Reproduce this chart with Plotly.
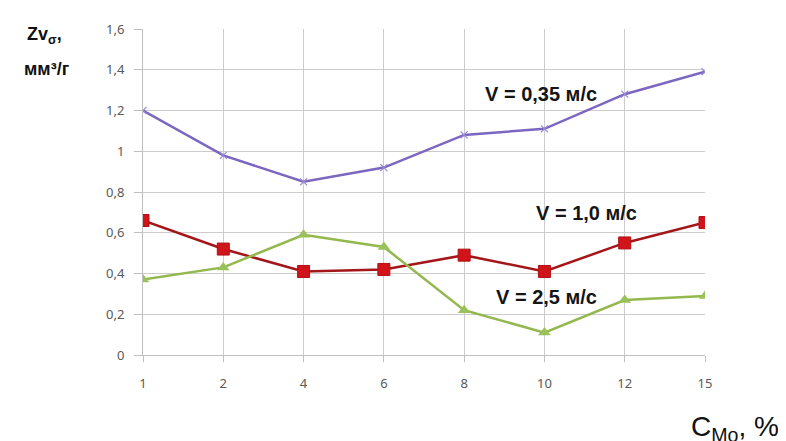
import plotly.graph_objects as go

categories = ["1", "2", "4", "6", "8", "10", "12", "15"]
v035 = [1.20, 0.98, 0.85, 0.92, 1.08, 1.11, 1.28, 1.39]
v10 = [0.66, 0.52, 0.41, 0.42, 0.49, 0.41, 0.55, 0.65]
v25 = [0.37, 0.43, 0.59, 0.53, 0.22, 0.11, 0.27, 0.29]
yticks = [0, 0.2, 0.4, 0.6, 0.8, 1.0, 1.2, 1.4, 1.6]
yticktext = ["0", "0,2", "0,4", "0,6", "0,8", "1", "1,2", "1,4", "1,6"]

fig = go.Figure()
fig.add_trace(go.Scatter(x=categories, y=v035, mode="lines+markers",
                         line=dict(color="#7b66c0", width=2.5),
                         marker=dict(symbol="x-thin", size=7, line=dict(color="#9a88d8", width=1.2))))
fig.add_trace(go.Scatter(x=categories, y=v10, mode="lines+markers",
                         line=dict(color="#a3161a", width=2.5),
                         marker=dict(symbol="square", size=12, color="#d0141a",
                                     line=dict(color="#b01015", width=1))))
fig.add_trace(go.Scatter(x=categories, y=v25, mode="lines+markers",
                         line=dict(color="#92b84e", width=2.5),
                         marker=dict(symbol="triangle-up", size=11, color="#9bc15a")))

ann_font = dict(family="Liberation Sans", size=20, color="#151515")
fig.add_annotation(x=4.96, y=1.28, text="<b>V = 0,35 м/с</b>", showarrow=False, font=ann_font)
fig.add_annotation(x=5.52, y=0.695, text="<b>V = 1,0 м/с</b>", showarrow=False, font=ann_font)
fig.add_annotation(x=5.03, y=0.286, text="<b>V = 2,5 м/с</b>", showarrow=False, font=ann_font)

fig.add_annotation(xref="paper", yref="paper", x=-0.176, y=0.979, xanchor="center", yanchor="middle",
                   text="<b>Zv<sub>σ</sub>,</b>", showarrow=False,
                   font=dict(family="Liberation Sans", size=18, color="#111111"))
fig.add_annotation(xref="paper", yref="paper", x=-0.171, y=0.878, xanchor="center", yanchor="middle",
                   text="<b>мм³/г</b>", showarrow=False,
                   font=dict(family="Liberation Sans", size=18, color="#111111"))
fig.add_annotation(xref="paper", yref="paper", x=1.135, y=-0.225, xanchor="right", yanchor="middle",
                   text="C<sub>Mo</sub>, %", showarrow=False,
                   font=dict(family="Liberation Sans", size=28, color="#111111"))

fig.update_layout(
    width=786, height=441,
    margin=dict(l=135, r=89, t=12, b=94),
    paper_bgcolor="white", plot_bgcolor="white",
    showlegend=False,
    font=dict(family="Noto Sans", size=12, color="#595959"),
)
fig.update_xaxes(type="category", categoryorder="array", categoryarray=categories,
                 range=[0, 7], showgrid=True, gridcolor="#cccccc", gridwidth=1,
                 showline=True, linecolor="#bfbfbf", ticks="outside", ticklen=6,
                 tickcolor="#bfbfbf", zeroline=False, ticklabelstandoff=10,
                 tickfont=dict(family="Noto Sans", size=13, color="#595959"))
fig.update_yaxes(range=[0, 1.6], tickvals=yticks, ticktext=yticktext,
                 showgrid=True, gridcolor="#cccccc", gridwidth=1,
                 showline=True, linecolor="#bfbfbf", ticks="outside", ticklen=8,
                 tickcolor="#bfbfbf", zeroline=False, ticklabelstandoff=7,
                 tickfont=dict(family="Noto Sans", size=13, color="#595959"))

fig.write_html("out.html")
